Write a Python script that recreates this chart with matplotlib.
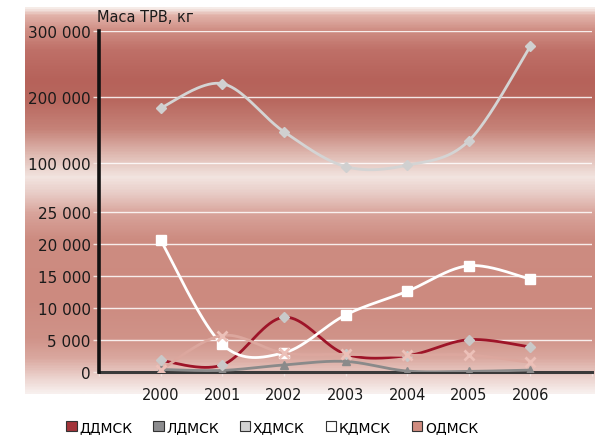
import numpy as np
import matplotlib
matplotlib.use("Agg")
import matplotlib.pyplot as plt
from matplotlib.colors import LinearSegmentedColormap
from matplotlib.patches import Patch
from matplotlib.ticker import FixedLocator, FuncFormatter

plt.rcParams['font.family'] = ['DejaVu Sans']

years = [2000, 2001, 2002, 2003, 2004, 2005, 2006]
series_names = ["ДДМСК", "ЛДМСК", "ХДМСК", "КДМСК", "ОДМСК"]
ddmsk = [1800, 1100, 8550, 2800, 2550, 5050, 3900]
ldmsk = [400, 250, 1100, 1650, 150, 100, 300]
hdmsk = [183000, 220000, 147000, 94000, 96000, 133000, 277000]
kdmsk = [20600, 4300, 3000, 8900, 12600, 16600, 14500]
odmsk = [300, 5700, 2950, 2750, 2600, 2650, 1500]
y_ticks = [0, 5000, 10000, 15000, 20000, 25000, 100000, 200000, 300000]
title = "Маса ТРВ, кг"

# broken value axis: linear up to 25 000, compressed above
BREAK = 25000.0
K = 0.1028


def fwd(v):
    v = np.asarray(v, dtype=float)
    return np.where(v <= BREAK, v, BREAK + (v - BREAK) * K)


def inv(u):
    u = np.asarray(u, dtype=float)
    return np.where(u <= BREAK, u, BREAK + (u - BREAK) / K)


def smooth(xs, ys, n=40):
    """Catmull-Rom style Bezier smoothing through the points."""
    P = np.column_stack([xs, ys]).astype(float)
    ext = np.vstack([P[0], P, P[-1]])
    out = []
    for i in range(len(P) - 1):
        p0, p1, p2, p3 = ext[i], ext[i + 1], ext[i + 2], ext[i + 3]
        c1 = p1 + (p2 - p0) / 6.0
        c2 = p2 - (p3 - p1) / 6.0
        t = np.linspace(0, 1, n)[:, None]
        seg = ((1 - t) ** 3) * p1 + 3 * ((1 - t) ** 2) * t * c1 + 3 * (1 - t) * t ** 2 * c2 + t ** 3 * p2
        out.append(seg if i == 0 else seg[1:])
    arr = np.vstack(out)
    return arr[:, 0], arr[:, 1]


fig = plt.figure(figsize=(5.95, 4.39), dpi=100)
W, H = 595.0, 439.0

# gradient backdrop
bg = fig.add_axes([25 / W, 1 - 395 / H, 570 / W, 387 / H])
stops = [
    (8, "#f6ece8"), (15, "#e2b3aa"), (30, "#cf8e84"), (50, "#bf7068"),
    (80, "#b6625a"), (100, "#b8675e"), (130, "#c68379"), (155, "#dfb9b1"),
    (178, "#f2e4e0"), (195, "#e8cbc5"), (215, "#d8a39a"), (240, "#cd8c81"),
    (300, "#cc8a7f"), (340, "#d09389"), (360, "#daa89f"), (380, "#ecd3ce"),
    (395, "#f8f0ee"),
]
cmap = LinearSegmentedColormap.from_list(
    "bg", [((p - 8) / 387.0, c) for p, c in stops])
grad = np.linspace(0, 1, 400)[:, None]
bg.imshow(grad, aspect="auto", cmap=cmap, extent=[0, 1, 1, 0])
bg.set_xlim(0, 1)
bg.set_ylim(1, 0)
bg.axis("off")

ax = fig.add_axes([99 / W, 1 - 373 / H, 493 / W, 341 / H])
ax.patch.set_alpha(0)
ax.set_yscale("function", functions=(fwd, inv))
ax.set_ylim(0, 300000)
ax.set_xlim(1999, 2007)

ax.yaxis.set_major_locator(FixedLocator(y_ticks))
ax.yaxis.set_major_formatter(FuncFormatter(lambda v, p: f"{int(v):,}".replace(",", " ")))
ax.set_xticks(list(range(1999, 2008)))
ax.set_xticklabels([""] + [str(y) for y in years] + [""])

for t in y_ticks[1:]:
    ax.axhline(t, color="white", lw=1.0, alpha=0.85, zorder=1)

ax.tick_params(axis="y", direction="out", length=4, width=1, color="#f4e4e0",
               labelsize=11, labelcolor="#1a1a1a", pad=2)
ax.tick_params(axis="x", direction="out", length=3, width=1, color="#f4e4e0",
               labelsize=10.5, labelcolor="#1a1a1a", pad=8)
for s in ("top", "right"):
    ax.spines[s].set_visible(False)
ax.spines["left"].set_color("#111111")
ax.spines["left"].set_linewidth(2.6)
ax.spines["bottom"].set_color("#3a3a3a")
ax.spines["bottom"].set_linewidth(2.2)
ax.spines["left"].set_zorder(6)
ax.spines["bottom"].set_zorder(2)

styles = [
    (ddmsk, "#9e1428", "D", "#c9c9c9", "#c9c9c9", 5.5, 4),
    (ldmsk, "#8a8a8a", "^", "#8a8a8a", "#8a8a8a", 6, 3),
    (hdmsk, "#d4d4d4", "D", "#d0d0d0", "#d0d0d0", 5.5, 4),
    (kdmsk, "#ffffff", "s", "#ffffff", "#ffffff", 6.5, 4),
    (odmsk, "#dca79e", "x", "#ecc0b8", "#ecc0b8", 7, 5),
]
for vals, lc, mk, mfc, mec, ms, z in styles:
    sx, sy = smooth(years, vals)
    ax.plot(sx, sy, color=lc, lw=2.0, zorder=z, solid_capstyle="round")
    ax.plot(years, vals, linestyle="none", marker=mk, ms=ms, mfc=mfc, mec=mec,
            mew=2 if mk == "x" else 1, zorder=z + 0.5)

fig.text(97 / W, 1 - 17 / H, title, fontsize=10.5, color="#1a1a1a",
         ha="left", va="center")

legend_colors = ["#a3343a", "#8c8c8e", "#d2d2d2", "#ffffff", "#d08c80"]
handles = [Patch(facecolor=c, edgecolor="#333333", lw=0.8) for c in legend_colors]
fig.legend(handles, series_names, loc="center", bbox_to_anchor=(272 / W, 1 - 428 / H),
           ncol=5, frameon=False, fontsize=10, handlelength=0.75, handleheight=0.75,
           handletextpad=0.2, columnspacing=1.5)

fig.savefig("out.png", dpi=100)
